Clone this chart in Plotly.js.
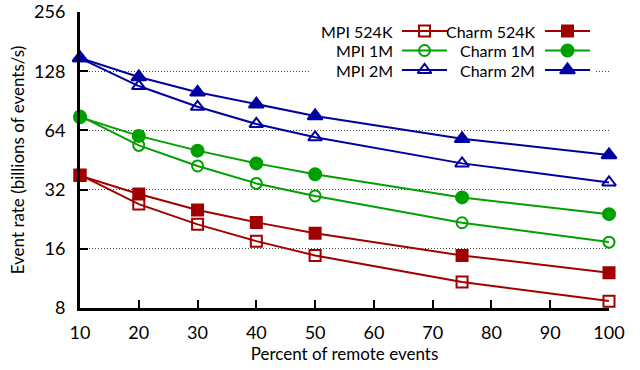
<!DOCTYPE html>
<html><head><meta charset="utf-8">
<script src="https://cdn.plot.ly/plotly-3.0.1.min.js"></script>
<style>html,body{margin:0;padding:0;background:#fff}#chart{width:640px;height:370px}</style>
</head><body><div id="chart"></div>
<script>
const percent = [10, 20, 30, 40, 50, 75, 100];
const mpi524K   = [38.0, 27.0, 21.3, 17.5, 14.8, 10.85, 8.67];
const charm524K = [37.7, 30.4, 25.2, 21.8, 19.2, 14.8, 12.1];
const mpi1M     = [75.8, 53.7, 42.2, 34.4, 29.7, 21.7, 17.3];
const charm1M   = [74.6, 60.0, 50.5, 43.5, 38.3, 29.2, 24.0];
const mpi2M     = [149, 107.6, 84.4, 69.0, 59.0, 43.5, 34.8];
const charm2M   = [149.5, 119.6, 100, 87, 75.8, 58.0, 48.0];
const yTicks = [8, 16, 32, 64, 128, 256];
const xTicks = [10, 20, 30, 40, 50, 60, 70, 80, 90, 100];

const RED = '#a00000', GREEN = '#00a000', BLUE = '#0000a0';
const FONT = 'Lato, "DejaVu Sans", sans-serif';

const series = [
  {name: 'MPI 524K',   y: mpi524K,   color: RED,   symbol: 'square-open',      size: 11, col: 0, row: 0},
  {name: 'Charm 524K', y: charm524K, color: RED,   symbol: 'square',           size: 11, col: 1, row: 0},
  {name: 'MPI 1M',     y: mpi1M,     color: GREEN, symbol: 'circle-open',      size: 11, col: 0, row: 1},
  {name: 'Charm 1M',   y: charm1M,   color: GREEN, symbol: 'circle',           size: 12, col: 1, row: 1},
  {name: 'MPI 2M',     y: mpi2M,     color: BLUE,  symbol: 'triangle-up-open', size: 12, col: 0, row: 2},
  {name: 'Charm 2M',   y: charm2M,   color: BLUE,  symbol: 'triangle-up',      size: 13, col: 1, row: 2}
];

const traces = series.map(s => ({
  x: percent, y: s.y, name: s.name, type: 'scatter', mode: 'lines+markers',
  line: {color: s.color, width: 2},
  marker: {symbol: s.symbol, size: s.size, color: s.color, line: {color: s.color, width: 2}},
  cliponaxis: false, showlegend: false
}));

// legend background (white box hiding gridlines), pixel coordinates on overlay axis
traces.push({
  x: [311, 595, 595, 311, 311], y: [20, 20, 80, 80, 20], xaxis: 'x2', yaxis: 'y2',
  type: 'scatter', mode: 'lines', fill: 'toself', fillcolor: '#fff',
  line: {width: 0, color: 'rgba(0,0,0,0)'}, showlegend: false, hoverinfo: 'skip', cliponaxis: false
});

// custom legend
const rowY = [31, 50.5, 70];
const textRight = [395, 537];
const sampleX = [[402, 447], [545, 590]];
const annotations = [];
series.forEach(s => {
  const sx = sampleX[s.col], yy = rowY[s.row];
  traces.push({
    x: [sx[0], sx[1]], y: [yy, yy], xaxis: 'x2', yaxis: 'y2', type: 'scatter', mode: 'lines',
    line: {color: s.color, width: 2}, showlegend: false, hoverinfo: 'skip', cliponaxis: false
  });
  traces.push({
    x: [(sx[0] + sx[1]) / 2], y: [yy], xaxis: 'x2', yaxis: 'y2', type: 'scatter', mode: 'markers',
    marker: {symbol: s.symbol, size: s.size, color: s.color, line: {color: s.color, width: 2}},
    showlegend: false, hoverinfo: 'skip', cliponaxis: false
  });
  annotations.push({
    x: textRight[s.col], y: yy, xref: 'x2', yref: 'y2', xanchor: 'right', yanchor: 'middle',
    text: s.name, showarrow: false, font: {family: FONT, size: 16, color: '#000'}
  });
});

const layout = {
  width: 640, height: 370,
  margin: {l: 80, r: 31, t: 12, b: 62},
  paper_bgcolor: '#fff', plot_bgcolor: '#fff',
  font: {family: FONT, size: 18, color: '#000'},
  showlegend: false,
  xaxis: {
    range: [10, 100], tickvals: xTicks, ticks: 'inside', ticklen: 8, tickwidth: 2, tickcolor: '#000',
    showline: true, linecolor: '#000', linewidth: 3, showgrid: false, zeroline: false,
    ticklabelstandoff: 6,
    title: {text: 'Percent of remote events', font: {family: FONT, size: 17}, standoff: 7}
  },
  yaxis: {
    type: 'log', range: [Math.log10(8), Math.log10(256)], tickvals: yTicks, ticktext: yTicks.map(String),
    ticks: 'inside', ticklen: 8, tickwidth: 2, tickcolor: '#000',
    showline: true, linecolor: '#000', linewidth: 3, zeroline: false,
    showgrid: true, gridcolor: '#444', gridwidth: 1, griddash: '1px,2px',
    ticklabelstandoff: 8,
    title: {text: 'Event rate (billions of events/s)', font: {family: FONT, size: 17}, standoff: 6}
  },
  xaxis2: {overlaying: 'x', range: [80, 609], visible: false, fixedrange: true},
  yaxis2: {overlaying: 'y', range: [308, 12], visible: false, fixedrange: true},
  annotations: annotations
};

Plotly.newPlot('chart', traces, layout, {staticPlot: true, displayModeBar: false});
</script></body></html>
